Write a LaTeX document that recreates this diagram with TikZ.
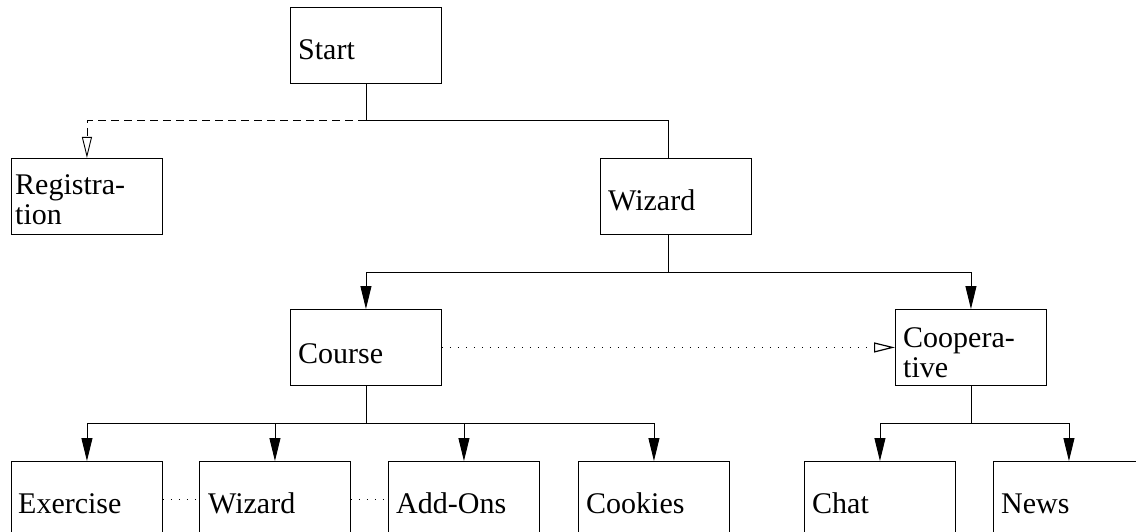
\documentclass[tikz,border=0pt]{standalone}
\usepackage{fontspec}
\setmainfont{Liberation Serif}
\usetikzlibrary{arrows.meta}
\begin{document}
\begin{tikzpicture}[x=1pt,y=-1pt,
  box/.style={draw, line width=0.9pt, rectangle, minimum width=151pt,
    minimum height=76pt, anchor=north west, inner sep=0pt},
  lbl/.style={anchor=base west, inner sep=0pt,
    font=\fontsize{30}{30}\selectfont, align=left},
  link/.style={line width=0.9pt},
  tree/.style={link, -{Triangle[length=23pt,width=11pt]}},
  hollow/.style={link, -{Triangle[open,length=21pt,width=10pt]}},
  dashline/.style={dash pattern=on 8pt off 5pt},
  dotline/.style={line width=1.2pt, dash pattern=on 1.3pt off 6.7pt},
  ]
\useasboundingbox (0,0) rectangle (1136,532);
\clip (0,0) rectangle (1136,532);

% boxes
\node[box] (start)   at (290,7)   {};
\node[box] (reg)     at (11,158)  {};
\node[box] (wiz)     at (600,158) {};
\node[box] (course)  at (290,309) {};
\node[box] (coop)    at (895,309) {};
\node[box] (exer)    at (11,461)  {};
\node[box] (wiztwo)  at (199,461) {};
\node[box] (addons)  at (388,461) {};
\node[box] (cookies) at (578,461) {};
\node[box] (chat)    at (804,461) {};
\node[box] (news)    at (993,461) {};

% labels (two-line labels are anchored on their last line)
\node[lbl] (startT)   at ([shift={(8,53)}]start.north west)   {Start};
\node[lbl] (regT)     at ([shift={(4,67)}]reg.north west)     {Registra-\\tion};
\node[lbl] (wizT)     at ([shift={(8,53)}]wiz.north west)     {Wizard};
\node[lbl] (courseT)  at ([shift={(8,54)}]course.north west)  {Course};
\node[lbl] (coopT)    at ([shift={(8,68)}]coop.north west)    {Coopera-\\tive};
\node[lbl] (exerT)    at ([shift={(7,52)}]exer.north west)    {Exercise};
\node[lbl] (wiztwoT)  at ([shift={(9,52)}]wiztwo.north west)  {Wizard};
\node[lbl] (addonsT)  at ([shift={(8,52)}]addons.north west)  {Add-Ons};
\node[lbl] (cookiesT) at ([shift={(8,52)}]cookies.north west) {Cookies};
\node[lbl] (chatT)    at ([shift={(8,52)}]chat.north west)    {Chat};
\node[lbl] (newsT)    at ([shift={(8,52)}]news.north west)    {News};

% junction points
\coordinate (sj) at ([shift={(0,37)}]start.south);
\coordinate (wj) at ([shift={(-8,38)}]wiz.south);
\coordinate (cj) at ([shift={(0,38)}]course.south);
\coordinate (oj) at ([shift={(0,38)}]coop.south);

% Start
\draw[link] (start.south) -- (sj) -| ([shift={(-8,0)}]wiz.north);
\draw[hollow, dashline] (sj) -| (reg.north);

% Wizard
\draw[link] ([shift={(-8,0)}]wiz.south) -- (wj);
\draw[tree] (wj) -| (course.north);
\draw[tree] (wj) -| (coop.north);

% Course
\draw[link] (course.south) -- (cj);
\draw[tree] (cj) -| (exer.north);
\draw[tree] (cj) -| (wiztwo.north);
\draw[tree] (cj) -| (addons.north);
\draw[tree] (cj) -| (cookies.north);
\draw[hollow, dotline] (course.east) -- (coop.west);

% Cooperative
\draw[link] (coop.south) -- (oj);
\draw[tree] (oj) -| (chat.north);
\draw[tree] (oj) -| (news.north);

% sequence links between course pages
\draw[dotline] (exer.east) -- (wiztwo.west);
\draw[dotline] (wiztwo.east) -- (addons.west);
\end{tikzpicture}
\end{document}
